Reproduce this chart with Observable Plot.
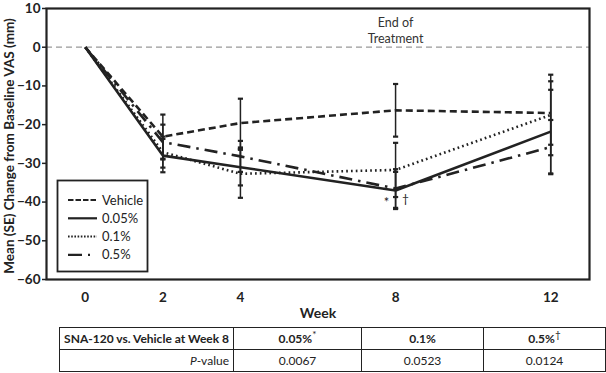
<!DOCTYPE html>
<html>
<head>
<meta charset="utf-8">
<script src="https://cdn.jsdelivr.net/npm/d3@7"></script>
<script src="https://cdn.jsdelivr.net/npm/@observablehq/plot@0.6"></script>
<style>
  body { margin: 0; background: #fff; font-family: Lato, "Open Sans", sans-serif; }
  #chart svg { display: block; }
  table { border-collapse: collapse; table-layout: fixed; width: 546px; margin-left: 59px; margin-top: 5px; font-size: 12px; color: #222; }
  td { border: 1.5px solid #222; height: 21px; line-height: 21px; padding: 0 4px; text-align: center; white-space: nowrap; overflow: hidden; }
  td.first { text-align: right; }
  .b { font-weight: bold; }
</style>
</head>
<body>
<div id="chart"></div>
<table>
  <colgroup><col style="width:174px"><col style="width:128px"><col style="width:122px"><col style="width:122px"></colgroup>
  <tr><td class="first b">SNA-120 vs. Vehicle at Week 8</td><td class="b" id="h1"></td><td class="b" id="h2"></td><td class="b" id="h3"></td></tr>
  <tr><td class="first"><i>P</i>-value</td><td id="p1"></td><td id="p2"></td><td id="p3"></td></tr>
</table>
<script>
// ---- data ----
const weeks = [0, 2, 4, 8, 12];
const seriesNames = ["Vehicle", "0.05%", "0.1%", "0.5%"];
const vehicle   = [0, -23.1, -19.6, -16.3, -17.0];
const dose005   = [0, -28.0, -31.0, -37.0, -21.8];
const dose01    = [0, -27.1, -32.7, -31.7, -17.5];
const dose05    = [0, -24.5, -28.2, -36.5, -25.8];
const seVehicle = [null, 5.7, 6.3, 6.8, 8.2];
const se005     = [null, 4.3, 4.7, 4.8, 10.8];
const se01      = [null, 4.0, 6.2, 7.0, 10.4];
const se05      = [null, 4.5, 4.0, 5.0, 7.0];
const yTicks = [10, 0, -10, -20, -30, -40, -50, -60];
const tableHeads = ["0.05%", "0.1%", "0.5%"];
const tableMarks = ["*", "", "†"];
const pValues = ["0.0067", "0.0523", "0.0124"];

const dashes = {"Vehicle": "7,4", "0.05%": null, "0.1%": "1.7,3.1", "0.5%": "13,6,2.5,6"};
const widths = {"Vehicle": 2.6, "0.05%": 2.6, "0.1%": 2.6, "0.5%": 2.6};
const allVals = [vehicle, dose005, dose01, dose05];
const allSE = [seVehicle, se005, se01, se05];

const rows = [];
seriesNames.forEach((s, i) => weeks.forEach((w, j) => rows.push({series: s, week: w, value: allVals[i][j], se: allSE[i][j]})));
const errRows = rows.filter(d => d.se != null);

const ink = "#222";
const capSymbol = {
  draw(ctx, size) { const r = 2.6; ctx.moveTo(-r, 0); ctx.lineTo(r, 0); }
};

const marks = [
  Plot.ruleY([0], {stroke: "#999", strokeWidth: 1.3, strokeDasharray: "6,4"}),
  Plot.ruleX(errRows, {x: "week", y1: d => d.value - d.se, y2: d => d.value + d.se, stroke: ink, strokeWidth: 1.5}),
  Plot.dot(errRows, {x: "week", y: d => d.value - d.se, symbol: capSymbol, stroke: ink, strokeWidth: 2.2}),
  Plot.dot(errRows, {x: "week", y: d => d.value + d.se, symbol: capSymbol, stroke: ink, strokeWidth: 2.2}),
  ...seriesNames.map(s => Plot.line(rows.filter(d => d.series === s), {
    x: "week", y: "value", stroke: ink, strokeWidth: widths[s],
    strokeDasharray: dashes[s], strokeLinecap: "butt"
  })),
  Plot.text(["End of\nTreatment"], {x: 8, y: 4.4, text: d => d, fill: "#333", fontSize: 12.5, lineHeight: 1.25}),
  Plot.text(["*"], {x: 8, y: -40.2, text: d => d, dx: -9, fill: ink, fontSize: 13}),
  Plot.text(["†"], {x: 8, y: -39.3, text: d => d, dx: 10, fill: ink, fontSize: 12}),
  Plot.frame({stroke: ink, strokeWidth: 2.2})
];

const chart = Plot.plot({
  width: 606,
  height: 322,
  marginLeft: 46,
  marginRight: 17,
  marginTop: 8,
  marginBottom: 43,
  style: {fontFamily: "Lato, 'Open Sans', sans-serif", fontSize: "13px", color: ink, background: "#fff"},
  x: {domain: [-1, 13], ticks: weeks, tickSize: 0, tickPadding: 13, label: null, tickFormat: d => d},
  y: {domain: [-60, 10], ticks: yTicks, tickSize: 4, tickPadding: 2, label: null, tickFormat: d => d},
  marks: [
    Plot.axisX({ticks: weeks, tickSize: 0, tickPadding: 13, fontWeight: "bold", fontSize: 13.5, label: null}),
    Plot.axisY({ticks: yTicks, tickSize: 4, tickPadding: 2, fontWeight: "bold", fontSize: 13.5, label: null, strokeWidth: 1.5}),
    ...marks
  ]
});
document.getElementById("chart").appendChild(chart);

const svg = d3.select(chart);
// axis titles
svg.append("text").attr("x", 318).attr("y", 318).attr("text-anchor", "middle")
  .attr("font-weight", "bold").attr("font-size", 14).attr("fill", ink).text("Week");
svg.append("text").attr("transform", "translate(14,146) rotate(-90)").attr("text-anchor", "middle")
  .attr("font-weight", "bold").attr("font-size", 13.5).attr("fill", ink)
  .text("Mean (SE) Change from Baseline VAS (mm)");

// legend
const lg = svg.append("g");
lg.append("rect").attr("x", 57.5).attr("y", 180.5).attr("width", 90).attr("height", 91)
  .attr("fill", "#fff").attr("stroke", ink).attr("stroke-width", 1.8);
seriesNames.forEach((s, i) => {
  const y = 200 + i * 18.3;
  lg.append("line").attr("x1", 68).attr("x2", 97).attr("y1", y).attr("y2", y)
    .attr("stroke", ink).attr("stroke-width", s === "0.1%" ? 2 : 2.2)
    .attr("stroke-dasharray", s === "Vehicle" ? "5.5,2" : s === "0.1%" ? "1.6,1.6" : s === "0.5%" ? "14,6,2,20" : null);
  lg.append("text").attr("x", 102).attr("y", y).attr("dy", "0.35em").attr("font-size", 13)
    .attr("text-anchor", "start").attr("fill", ink).text(s);
});

// table
tableHeads.forEach((h, i) => {
  const td = document.getElementById("h" + (i + 1));
  td.innerHTML = h + (tableMarks[i] ? '<sup style="font-weight:normal;font-size:10px;line-height:0">' + tableMarks[i] + '</sup>' : "");
  document.getElementById("p" + (i + 1)).textContent = pValues[i];
});
</script>
</body>
</html>
